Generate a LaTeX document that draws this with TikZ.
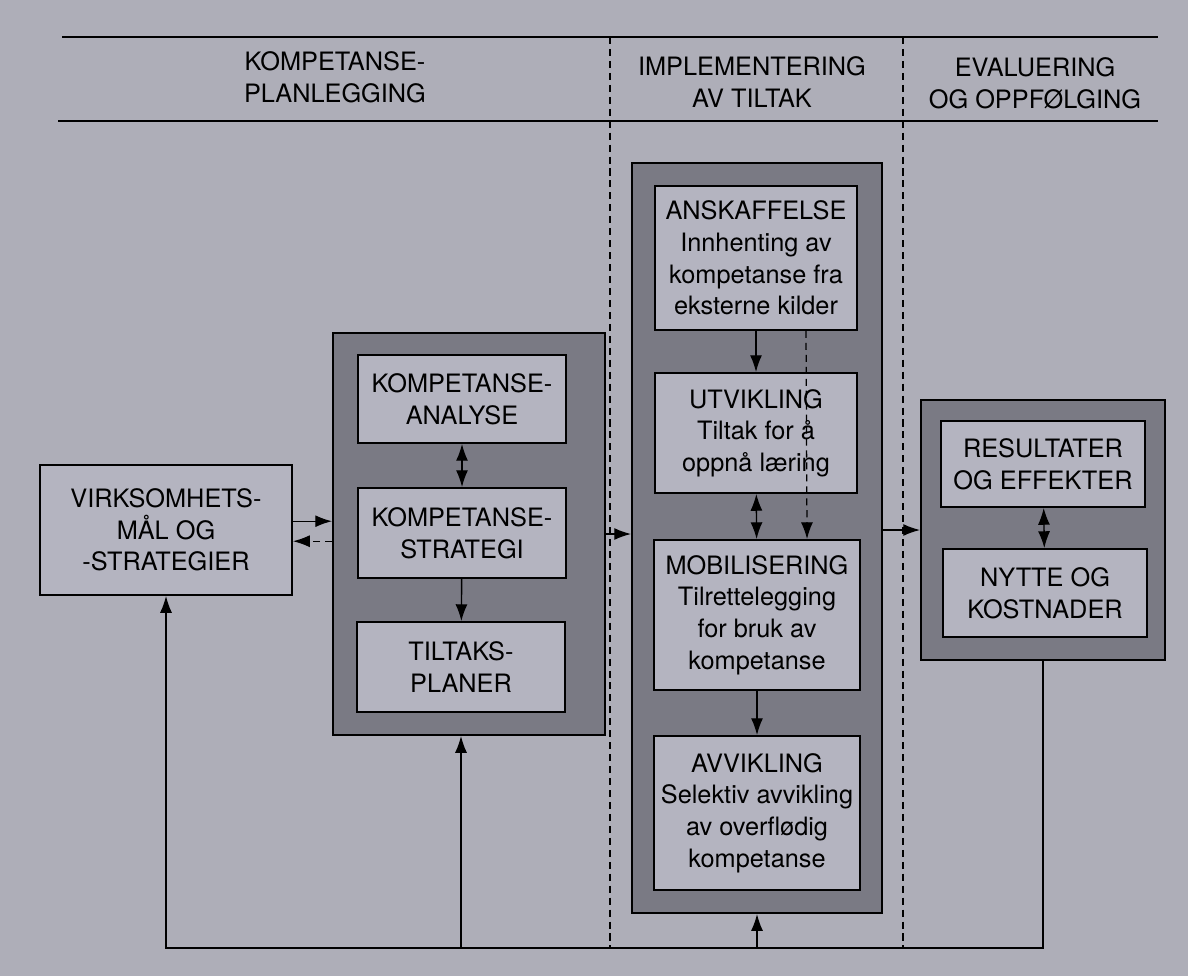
\documentclass[tikz,border=0pt]{standalone}
\usepackage{fontspec}
\setmainfont{TeX Gyre Heros}
\usetikzlibrary{arrows.meta}
\definecolor{papir}{RGB}{174,174,184}
\definecolor{ramme}{RGB}{122,122,132}
\definecolor{felt}{RGB}{180,180,192}

\begin{document}
\begin{tikzpicture}[x=0.025cm, y=-0.025cm,
    tekst/.style={align=center, font=\fontsize{18}{22.5}\selectfont},
    ytre/.style={draw, line width=1.3pt, fill=ramme, inner sep=0pt},
    boks/.style={tekst, draw, line width=1.3pt, fill=felt, inner sep=0pt},
    pil/.style={-{Latex[length=4.2mm,width=3mm]}, line width=1pt},
    dobbel/.style={{Latex[length=4.2mm,width=3mm]}-{Latex[length=4.2mm,width=3mm]}, line width=1pt},
    skille/.style={dash pattern=on 5pt off 3.5pt, line width=0.9pt}]
    % parametre
    \def\topp{37}    % øverste linje
    \def\midt{121}   % linje under overskriftene
    \def\bunn{948}   % tilbakekoblingen nederst

    % bakgrunn
    \fill[papir] (0,0) rectangle (1188,976);
    \useasboundingbox (0,0) rectangle (1188,976);

    %—————— Overskrifter ————————————————————————————————————————————
    \draw[line width=1.3pt] (62,\topp) -- (1158,\topp);
    \draw[line width=1.3pt] (58,\midt) -- (1158,\midt);
    \node[tekst] (hPlan) at (335,77) {KOMPETANSE-\\PLANLEGGING};
    \node[tekst] (hImpl) at (752,82) {IMPLEMENTERING\\AV TILTAK};
    \node[tekst] (hEval) at (1035,83) {EVALUERING\\OG OPPFØLGING};
    % stiplede skillelinjer
    \draw[skille] (610,\topp) -- (610,\bunn);
    \draw[skille] (903,\topp) -- (903,\bunn);

    %—————— Virksomhetsmål ——————————————————————————————————————————
    \node[boks, minimum width=6.3cm, minimum height=3.25cm] (virksomhet) at (166,530)
      {VIRKSOMHETS-\\MÅL OG\\-STRATEGIER};

    %—————— Kompetanseplanlegging ———————————————————————————————————
    \node[ytre, minimum width=6.8cm, minimum height=10.05cm] (planlegging) at (469,534) {};
    \node[boks, minimum width=5.2cm, minimum height=2.2cm] (analyse) at (462,399)
      {KOMPETANSE-\\ANALYSE};
    \node[boks, minimum width=5.2cm, minimum height=2.25cm] (strategi) at (462,533)
      {KOMPETANSE-\\STRATEGI};
    \node[boks, minimum width=5.2cm, minimum height=2.25cm] (tiltak) at (461,667)
      {TILTAKS-\\PLANER};
    \draw[dobbel] (analyse) -- (strategi);
    \draw[pil] (strategi) -- (tiltak);

    %—————— Implementering ——————————————————————————————————————————
    \node[ytre, minimum width=6.25cm, minimum height=18.75cm] (implementering) at (757,538) {};
    \node[boks, minimum width=5.05cm, minimum height=3.6cm] (anskaffelse) at (756,258)
      {ANSKAFFELSE\\Innhenting av\\kompetanse fra\\eksterne kilder};
    \node[boks, minimum width=5.05cm, minimum height=3.0cm] (utvikling) at (756,433)
      {UTVIKLING\\Tiltak for å\\oppnå læring};
    \node[boks, minimum width=5.15cm, minimum height=3.75cm] (mobilisering) at (757,615)
      {MOBILISERING\\Tilrettelegging\\for bruk av\\kompetanse};
    \node[boks, minimum width=5.15cm, minimum height=3.85cm] (avvikling) at (757,813)
      {AVVIKLING\\Selektiv avvikling\\av overflødig\\kompetanse};
    \draw[pil] (anskaffelse) -- (utvikling);
    \draw[dobbel] (utvikling) -- (mobilisering);
    \draw[pil] (mobilisering) -- (avvikling);
    \draw[pil, skille] ([xshift=1.25cm]anskaffelse.south) -- ([xshift=1.25cm]mobilisering.north);

    %—————— Evaluering ——————————————————————————————————————————————
    \node[ytre, minimum width=6.1cm, minimum height=6.5cm] (evaluering) at (1043,530) {};
    \node[boks, minimum width=5.1cm, minimum height=2.15cm] (resultater) at (1043,464)
      {RESULTATER\\OG EFFEKTER};
    \node[boks, minimum width=5.1cm, minimum height=2.2cm] (nytte) at (1045,593)
      {NYTTE OG\\KOSTNADER};
    \draw[dobbel] (resultater) -- (nytte);

    %—————— Piler mellom fasene ——————————————————————————————————————
    \coordinate (fram) at ([yshift=0.22cm]virksomhet.east);
    \coordinate (tilbake) at ([yshift=-0.28cm]virksomhet.east);
    \draw[pil] (fram) -- (fram -| planlegging.west);
    \draw[pil, skille] (tilbake -| planlegging.west) -- (tilbake);
    \draw[pil] (planlegging.east) -- (planlegging.east -| implementering.west);
    \draw[pil] (evaluering.west -| implementering.east) -- (evaluering.west);

    % tilbakekobling
    \coordinate (bunnlinje) at (0,\bunn);
    \draw[pil] (evaluering.south) |- (virksomhet.south |- bunnlinje) -- (virksomhet.south);
    \draw[pil] (tiltak.south |- bunnlinje) -- (tiltak.south |- planlegging.south);
    \draw[pil] (implementering.south |- bunnlinje) -- (implementering.south);

\end{tikzpicture}
\end{document}
